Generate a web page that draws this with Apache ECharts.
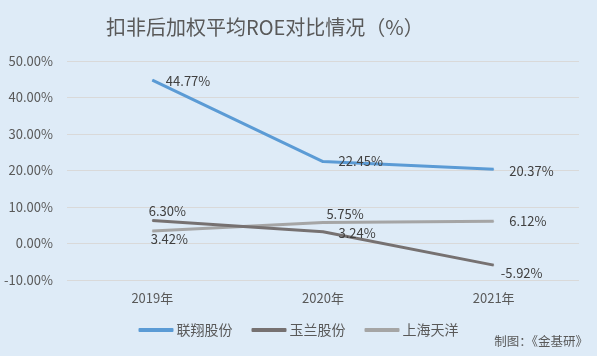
<!DOCTYPE html>
<html>
<head>
<meta charset="utf-8">
<script src="https://cdn.jsdelivr.net/npm/echarts@6/dist/echarts.min.js"></script>
<style>html,body{margin:0;padding:0;background:#DEEBF7;}#c{width:597px;height:356px;}</style>
</head>
<body>
<div id="c"></div>
<script>
var categories = ['2019年', '2020年', '2021年'];
var lianxiang = [44.77, 22.45, 20.37];
var yulan = [6.30, 3.24, -5.92];
var shanghai = [3.42, 5.75, 6.12];
var yTicks = [-10, 0, 10, 20, 30, 40, 50];

var FONT = '"Noto Sans CJK SC", "Noto Sans", sans-serif';
var labelBase = {show: true, fontSize: 13, color: '#404040', fontFamily: FONT,
  formatter: function (p) { return p.value.toFixed(2) + '%'; }};

function withLabels(values, places) {
  return values.map(function (v, i) {
    return {value: v, label: Object.assign({}, labelBase, {position: places[i].position, distance: places[i].distance})};
  });
}

var lxPlaces = [
  {position: 'right', distance: 13, dx: 0, dy: 1},
  {position: 'right', distance: 15, dx: 0, dy: 0},
  {position: 'right', distance: 15, dx: 0, dy: 2}
];
var ylPlaces = [
  {position: 'top', distance: 2, dx: 15, dy: 0},
  {position: 'right', distance: 15, dx: 0, dy: 1},
  {position: 'bottom', distance: 1, dx: 28, dy: 0}
];
var shPlaces = [
  {position: 'bottom', distance: 1, dx: 17, dy: 0},
  {position: 'top', distance: 1, dx: 22, dy: 0},
  {position: 'right', distance: 15, dx: 0, dy: 0}
];

function lineSeries(name, values, places, color, z) {
  return {
    name: name, type: 'line', data: withLabels(values, places),
    symbol: 'circle', symbolSize: 1, showSymbol: true,
    lineStyle: {width: 3, color: color}, itemStyle: {color: color},
    label: labelBase,
    labelLayout: function (p) {
      var pl = places[p.dataIndex];
      return {hideOverlap: false, dx: pl.dx, dy: pl.dy};
    },
    z: z
  };
}

var chart = echarts.init(document.getElementById('c'));
chart.setOption({
  backgroundColor: '#DEEBF7',
  animation: false,
  title: {
    text: '扣非后加权平均ROE对比情况（%）',
    left: 101, top: 12,
    textStyle: {fontSize: 20, fontWeight: 'normal', color: '#595959', fontFamily: FONT}
  },
  graphic: [{
    type: 'text', right: 9, top: 335,
    style: {text: '制图：《金基研》', fontSize: 12.5, fill: '#595959', fontFamily: FONT}
  }],
  legend: {
    bottom: 14, left: 'center',
    itemWidth: 35, itemHeight: 4, itemGap: 19,
    icon: 'roundRect',
    textStyle: {fontSize: 14, color: '#595959', fontFamily: FONT, padding: [0, 0, 0, -2]},
    data: ['联翔股份', '玉兰股份', '上海天洋']
  },
  grid: {left: 67, right: 18, top: 61, bottom: 76},
  xAxis: {
    type: 'category', data: categories, boundaryGap: true,
    axisLine: {show: false}, axisTick: {show: false},
    axisLabel: {fontSize: 13, color: '#595959', margin: 12, fontFamily: FONT}
  },
  yAxis: {
    type: 'value', min: yTicks[0], max: yTicks[yTicks.length - 1], interval: 10,
    axisLine: {show: false}, axisTick: {show: false},
    axisLabel: {fontSize: 13, color: '#595959', margin: 14, fontFamily: FONT,
      formatter: function (v) { return v.toFixed(2) + '%'; }},
    splitLine: {lineStyle: {color: '#D9D9D9', width: 1}}
  },
  series: [
    lineSeries('联翔股份', lianxiang, lxPlaces, '#5B9BD5', 2),
    lineSeries('玉兰股份', yulan, ylPlaces, '#767171', 3),
    lineSeries('上海天洋', shanghai, shPlaces, '#A5A5A5', 2)
  ]
});
</script>
</body>
</html>
